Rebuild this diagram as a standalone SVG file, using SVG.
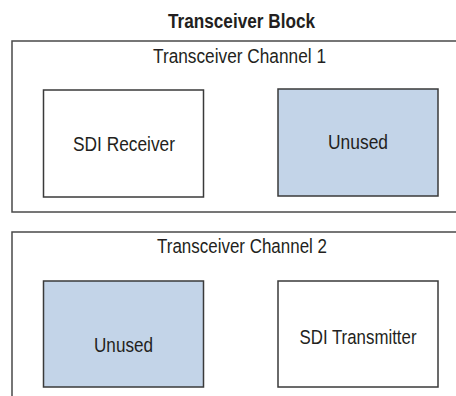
<svg xmlns="http://www.w3.org/2000/svg" width="456" height="396" viewBox="0 0 456 396">
  <style>
    .frame { fill: #ffffff; stroke: #4a4a4a; stroke-width: 1.5; }
    .box { fill: #ffffff; stroke: #3a3a3a; stroke-width: 1.5; }
    .unused { fill: #c3d4e8; stroke: #3a3a3a; stroke-width: 1.5; }
    text { font-family: "Liberation Sans", Arial, Helvetica, sans-serif; fill: #231f20; text-anchor: middle; }
    .title { font-size: 19.5px; font-weight: bold; }
    .label { font-size: 20.5px; }
  </style>
  <rect width="456" height="396" fill="#ffffff"/>

  <g id="block-title">
    <text class="title" x="241.5" y="28" textLength="147" lengthAdjust="spacingAndGlyphs">Transceiver Block</text>
  </g>

  <g id="channel-1">
    <rect class="frame" x="12" y="41" width="460" height="171"/>
    <text class="label" x="239.5" y="63" textLength="173" lengthAdjust="spacingAndGlyphs">Transceiver Channel 1</text>
  </g>
  <g id="sdi-receiver">
    <rect class="box" x="43.5" y="90" width="160" height="107"/>
    <text class="label" x="124" y="150.5" textLength="102" lengthAdjust="spacingAndGlyphs">SDI Receiver</text>
  </g>
  <g id="unused-1">
    <rect class="unused" x="278" y="89" width="160" height="107"/>
    <text class="label" x="358" y="148.5" textLength="60" lengthAdjust="spacingAndGlyphs">Unused</text>
  </g>

  <g id="channel-2">
    <rect class="frame" x="12" y="232" width="460" height="180"/>
    <text class="label" x="242" y="252.7" textLength="170" lengthAdjust="spacingAndGlyphs">Transceiver Channel 2</text>
  </g>
  <g id="unused-2">
    <rect class="unused" x="43.5" y="281" width="160" height="106"/>
    <text class="label" x="123.5" y="351.7" textLength="59" lengthAdjust="spacingAndGlyphs">Unused</text>
  </g>
  <g id="sdi-transmitter">
    <rect class="box" x="278" y="281" width="160" height="106"/>
    <text class="label" x="358" y="344" textLength="117" lengthAdjust="spacingAndGlyphs">SDI Transmitter</text>
  </g>

  <g id="connectors"/>
</svg>
